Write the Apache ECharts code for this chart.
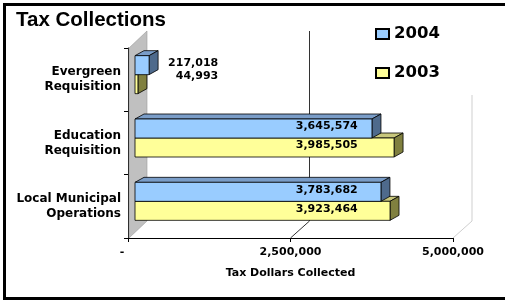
<!DOCTYPE html>
<html>
<head>
<meta charset="utf-8">
<script src="https://cdn.jsdelivr.net/npm/echarts@6/dist/echarts.min.js"></script>
<style>html,body{margin:0;padding:0;background:#fff}#c{width:505px;height:303px}</style>
</head>
<body>
<div id="c"></div>
<script>
// ---- data ----
const categories = ['Evergreen\nRequisition', 'Education\nRequisition', 'Local Municipal\nOperations'];
const seriesNames = ['2004', '2003'];
const values2004 = [217018, 3645574, 3783682];
const values2003 = [44993, 3985505, 3923464];
const xTickValues = [0, 2500000, 5000000];
const xMin = 0, xMax = 5000000, xInterval = 2500000;

// ---- style / layout constants ----
const FONT = 'DejaVu Sans';
const WALL_DX = 19, WALL_DY = -17;   // depth of the 3D box
const BAR_DX = 7, BAR_DY = -5;       // bars sit inside the box
const FACE_DX = 9, FACE_DY = -5;     // thickness of each bar
const BAR_FRAC = 0.3;                // bar height as fraction of band
const LONG_LABEL_CENTER = 2950000;   // where labels sit on long bars
const SHORT_LABEL_RIGHT = 1280000;   // where labels end for short bars

function fmt(v) {
  return String(Math.round(v)).replace(/\B(?=(\d{3})+(?!\d))/g, ',');
}

const colors = {
  '2004': { front: '#99CCFF', top: '#7A9DC8', side: '#4E6A8C' },
  '2003': { front: '#FFFF99', top: '#C8C77C', side: '#80803F' }
};

function barRender(name) {
  const c = colors[name];
  const upper = name === '2004';
  return function (params, api) {
    const v = api.value(0);
    const i = api.value(1);
    const p0 = api.coord([0, i]);
    const p1 = api.coord([v, i]);
    const band = api.size([0, 1])[1];
    const h = band * BAR_FRAC;
    const cy = p0[1] + BAR_DY;
    const x0 = p0[0] + BAR_DX, x1 = p1[0] + BAR_DX;
    const yT = upper ? cy - h : cy;
    const yB = upper ? cy : cy + h;
    const st = { stroke: '#000', lineWidth: 0.8 };
    const children = [
      { type: 'polygon', shape: { points: [[x0, yT], [x0 + FACE_DX, yT + FACE_DY], [x1 + FACE_DX, yT + FACE_DY], [x1, yT]] },
        style: Object.assign({ fill: c.top }, st) },
      { type: 'polygon', shape: { points: [[x1, yT], [x1 + FACE_DX, yT + FACE_DY], [x1 + FACE_DX, yB + FACE_DY], [x1, yB]] },
        style: Object.assign({ fill: c.side }, st) },
      { type: 'rect', shape: { x: x0, y: yT, width: x1 - x0, height: yB - yT },
        style: Object.assign({ fill: c.front }, st) }
    ];
    const faceMid = (yT + yB) / 2;
    let lx, align, ly;
    if (v > 1000000) {
      lx = api.coord([LONG_LABEL_CENTER, i])[0] + BAR_DX; align = 'center'; ly = faceMid - 2;
    } else {
      lx = api.coord([SHORT_LABEL_RIGHT, i])[0] + BAR_DX; align = 'right'; ly = upper ? faceMid - 2 : faceMid - 8;
    }
    children.push({ type: 'text', style: { text: fmt(v), x: lx, y: ly, align: align, verticalAlign: 'middle',
      font: 'bold 11px "' + FONT + '"', fill: '#000' } });
    return { type: 'group', children: children };
  };
}

function frameRender(params, api) {
  const v = api.value(0);
  const cs = params.coordSys;
  const fx = api.coord([v, 0])[0];
  const top = cs.y, bottom = cs.y + cs.height;
  const children = [];
  if (v === xMin) {
    children.push({ type: 'polygon', shape: { points: [[fx + 1, top], [fx + WALL_DX, top + WALL_DY], [fx + WALL_DX, bottom + WALL_DY], [fx + 1, bottom]] },
      style: { fill: '#C0C0C0', stroke: '#9a9a9a', lineWidth: 0.6 } });
  } else {
    const col = v === xMax ? '#cfcfcf' : '#333';
    children.push({ type: 'line', shape: { x1: fx, y1: bottom, x2: fx + WALL_DX, y2: bottom + WALL_DY }, style: { stroke: col, lineWidth: 1 } });
    children.push({ type: 'line', shape: { x1: fx + WALL_DX, y1: top + WALL_DY, x2: fx + WALL_DX, y2: bottom + WALL_DY }, style: { stroke: col, lineWidth: 1 } });
  }
  return { type: 'group', children: children };
}

const chart = echarts.init(document.getElementById('c'), null, { renderer: 'canvas' });
chart.setOption({
  animation: false,
  backgroundColor: '#fff',
  title: {
    text: 'Tax Collections', left: 16, top: 10, padding: 0,
    textStyle: { fontFamily: 'Liberation Sans', fontWeight: 'bold', fontSize: 20.5, color: '#000' }
  },
  legend: {
    data: seriesNames,
    orient: 'vertical',
    left: 370, top: 19,
    padding: [5, 40, 12, 5],
    backgroundColor: '#fff',
    itemWidth: 13, itemHeight: 10, itemGap: 19,
    icon: 'rect',
    textStyle: { fontFamily: FONT, fontWeight: 'bold', fontSize: 16.5, color: '#000', lineHeight: 20 },
    z: 10
  },
  graphic: [{
    type: 'rect', z: 100, silent: true,
    shape: { x: 4.5, y: 4.5, width: 530, height: 294 },
    style: { fill: 'none', stroke: '#000', lineWidth: 3 }
  }],
  grid: { left: 128, top: 48, width: 325, height: 190 },
  xAxis: {
    type: 'value', min: xMin, max: xMax, interval: xInterval,
    axisLine: { show: true, lineStyle: { color: '#000', width: 1 } },
    axisTick: { show: true, length: 4, lineStyle: { color: '#000' } },
    splitLine: { show: false },
    axisLabel: {
      margin: 9, color: '#000', fontFamily: FONT, fontWeight: 'bold', fontSize: 11,
      formatter: function (v) { return v === 0 ? '{d|-}' : fmt(v); },
      rich: { d: { padding: [0, 12, 0, 0], fontFamily: FONT, fontWeight: 'bold', fontSize: 11, color: '#000' } }
    },
    name: 'Tax Dollars Collected', nameLocation: 'middle', nameGap: 30,
    nameTextStyle: { fontFamily: FONT, fontWeight: 'bold', fontSize: 11, color: '#000' }
  },
  yAxis: {
    type: 'category', data: categories, inverse: true,
    axisLine: { show: true, lineStyle: { color: '#000', width: 1 } },
    axisTick: { show: true, length: 4, lineStyle: { color: '#000' } },
    axisLabel: { margin: 7, color: '#000', fontFamily: FONT, fontWeight: 'bold', fontSize: 12, lineHeight: 15, align: 'right' }
  },
  series: [
    { type: 'custom', name: 'frame', z: 1, renderItem: frameRender, silent: true,
      data: xTickValues.map(v => [v, 0]), encode: { x: 0, y: 1 } },
    { type: 'custom', name: '2003', z: 3, renderItem: barRender('2003'),
      itemStyle: { color: colors['2003'].front, borderColor: '#000', borderWidth: 1 },
      data: values2003.map((v, i) => [v, i]), encode: { x: 0, y: 1 } },
    { type: 'custom', name: '2004', z: 4, renderItem: barRender('2004'),
      itemStyle: { color: colors['2004'].front, borderColor: '#000', borderWidth: 1 },
      data: values2004.map((v, i) => [v, i]), encode: { x: 0, y: 1 } }
  ]
});
</script>
</body>
</html>
